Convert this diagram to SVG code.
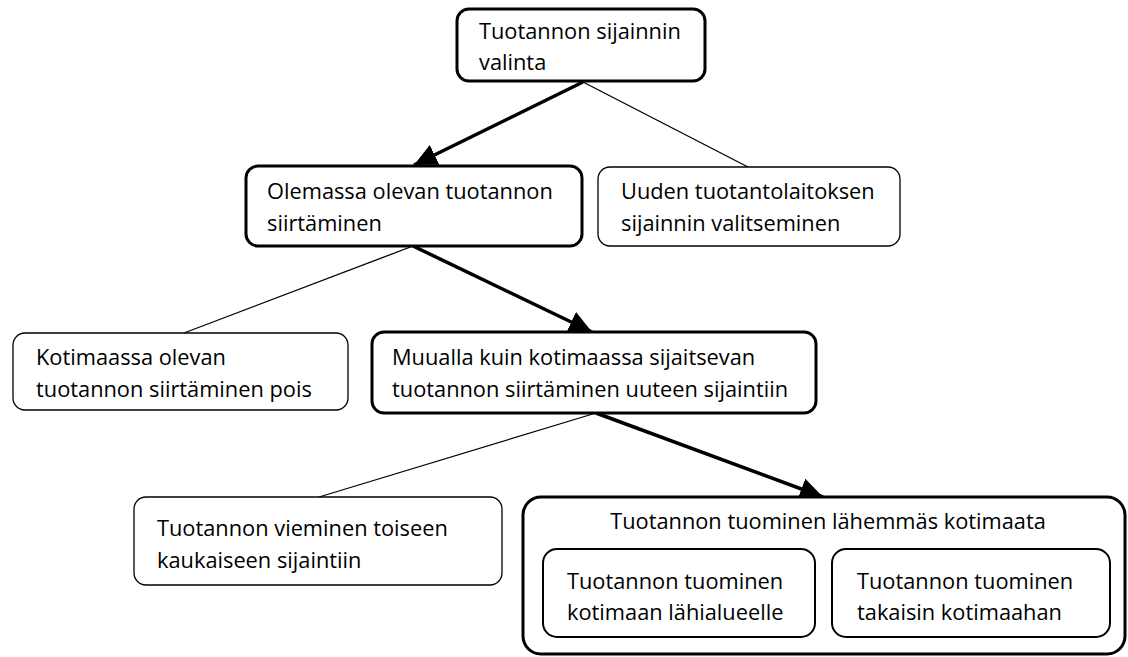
<svg xmlns="http://www.w3.org/2000/svg" width="1128" height="657" viewBox="0 0 1128 657">
<style>
.box{fill:#fff;stroke:#000}
.thick{stroke-width:3}
.thin{stroke-width:1.3}
.mid{stroke-width:2}
text{font-family:"Open Sans","Liberation Sans",sans-serif;font-size:21.8px;fill:#000}
.c{stroke:#000;fill:none}
.cb{stroke-width:3.5}
.ct{stroke-width:1.3}
</style>
<defs>
<marker id="arr" markerUnits="userSpaceOnUse" markerWidth="23" markerHeight="22" refX="23" refY="11" orient="auto">
<path d="M0,0 L23,11 L0,22 z" fill="#000"/>
</marker>
</defs>
<g id="connectors">
<line class="c cb" x1="583" y1="82" x2="414" y2="165" marker-end="url(#arr)"/>
<line class="c ct" x1="583" y1="82" x2="748" y2="167"/>
<line class="c cb" x1="413" y1="246" x2="592" y2="332" marker-end="url(#arr)"/>
<line class="c ct" x1="413" y1="246" x2="184" y2="333"/>
<line class="c cb" x1="596" y1="413" x2="823" y2="497" marker-end="url(#arr)"/>
<line class="c ct" x1="596" y1="413" x2="319" y2="497"/>
</g>
<g id="n-valinta">
<rect class="box thick" x="457" y="9" width="248" height="72" rx="12"/>
<text x="479" y="39">Tuotannon sijainnin</text>
<text x="479" y="70">valinta</text>
</g>
<g id="n-olemassa">
<rect class="box thick" x="246" y="166" width="336" height="80" rx="12"/>
<text x="267" y="199">Olemassa olevan tuotannon</text>
<text x="267" y="231">siirtäminen</text>
</g>
<g id="n-uuden">
<rect class="box thin" x="598" y="167" width="302" height="79" rx="12"/>
<text x="621" y="199">Uuden tuotantolaitoksen</text>
<text x="621" y="231">sijainnin valitseminen</text>
</g>
<g id="n-kotimaassa">
<rect class="box thin" x="13" y="333" width="335" height="77" rx="12"/>
<text x="36" y="365">Kotimaassa olevan</text>
<text x="36" y="397">tuotannon siirtäminen pois</text>
</g>
<g id="n-muualla">
<rect class="box thick" x="372" y="332" width="444" height="81" rx="12"/>
<text x="392" y="365">Muualla kuin kotimaassa sijaitsevan</text>
<text x="392" y="397">tuotannon siirtäminen uuteen sijaintiin</text>
</g>
<g id="n-vieminen">
<rect class="box thin" x="134" y="497" width="368" height="88" rx="12"/>
<text x="157" y="536">Tuotannon vieminen toiseen</text>
<text x="157" y="568">kaukaiseen sijaintiin</text>
</g>
<g id="n-lahemmas">
<rect class="box thick" x="523" y="497" width="602" height="157" rx="18"/>
<text x="828" y="529" text-anchor="middle">Tuotannon tuominen lähemmäs kotimaata</text>
</g>
<g id="n-lahialue">
<rect class="box mid" x="543" y="549" width="272" height="88" rx="14"/>
<text x="567" y="589">Tuotannon tuominen</text>
<text x="567" y="620">kotimaan lähialueelle</text>
</g>
<g id="n-takaisin">
<rect class="box mid" x="832" y="549" width="278" height="88" rx="14"/>
<text x="857" y="589">Tuotannon tuominen</text>
<text x="857" y="620">takaisin kotimaahan</text>
</g>
</svg>
